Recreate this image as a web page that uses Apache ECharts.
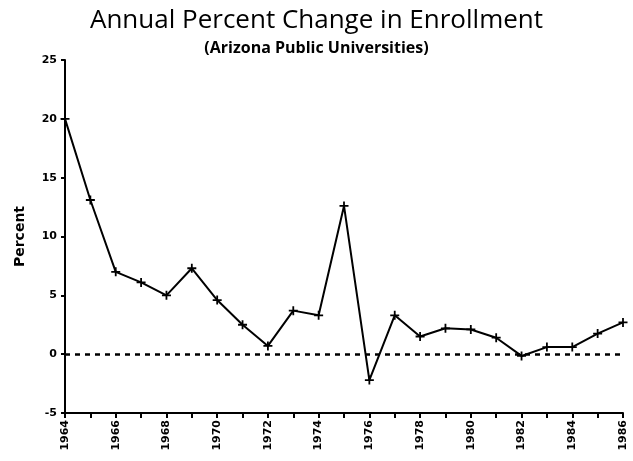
<!DOCTYPE html>
<html>
<head>
<meta charset="utf-8">
<script src="https://cdn.jsdelivr.net/npm/echarts@6/dist/echarts.min.js"></script>
<style>
  html, body { margin: 0; padding: 0; background: #fff; }
  #chart { width: 633px; height: 461px; }
</style>
</head>
<body>
<div id="chart"></div>
<script>
// years and annual change (%)
let years = ['1964','1965','1966','1967','1968','1969','1970','1971','1972','1973','1974','1975',
             '1976','1977','1978','1979','1980','1981','1982','1983','1984','1985','1986'];
let pctChange = [20.0, 13.1, 7.0, 6.1, 5.0, 7.3, 4.6, 2.5, 0.7, 3.7, 3.3, 12.6,
                 -2.2, 3.3, 1.5, 2.2, 2.1, 1.4, -0.15, 0.6, 0.6, 1.75, 2.7];
let yTicks = [-5, 0, 5, 10, 15, 20, 25];

let myChart = echarts.init(document.getElementById('chart'), null, {renderer: 'canvas'});

let plusSymbol = 'path://M4,0H6V4H10V6H6V10H4V6H0V4H4Z';

option = {
    backgroundColor: '#fff',
    animation: false,
    title: {
        text: 'Annual Percent Change in Enrollment',
        subtext: '(Arizona Public Universities)',
        left: 'center',
        top: 3,
        itemGap: 6,
        textStyle: {
            fontFamily: 'Open Sans',
            fontWeight: 'normal',
            fontSize: 26,
            color: '#000'
        },
        subtextStyle: {
            fontFamily: 'Open Sans',
            fontWeight: 'bold',
            fontSize: 16,
            color: '#000'
        }
    },
    grid: {
        left: 65,
        right: 10,
        top: 60,
        bottom: 48
    },
    xAxis: {
        type: 'category',
        data: years,
        boundaryGap: false,
        axisLine: { onZero: false, lineStyle: { color: '#000', width: 2 } },
        axisTick: { show: true, interval: 0, length: 5, lineStyle: { color: '#000', width: 2 } },
        axisLabel: {
            interval: 1,
            rotate: 90,
            color: '#000',
            fontFamily: 'DejaVu Sans',
            fontWeight: 'bold',
            fontSize: 11,
            margin: 7
        },
        splitLine: { show: false }
    },
    yAxis: {
        type: 'value',
        min: yTicks[0],
        max: yTicks[yTicks.length - 1],
        interval: 5,
        name: 'Percent',
        nameLocation: 'middle',
        nameGap: 38,
        nameTextStyle: {
            fontFamily: 'DejaVu Sans',
            fontWeight: 'bold',
            fontSize: 14,
            color: '#000'
        },
        axisLine: { show: true, lineStyle: { color: '#000', width: 2 } },
        axisTick: { show: true, length: 4, lineStyle: { color: '#000', width: 2 } },
        axisLabel: {
            color: '#000',
            fontFamily: 'DejaVu Sans',
            fontWeight: 'bold',
            fontSize: 11,
            margin: 8
        },
        splitLine: { show: false }
    },
    series: [{
        name: 'Percent',
        type: 'line',
        data: pctChange,
        symbol: plusSymbol,
        symbolSize: 9,
        showAllSymbol: true,
        itemStyle: { color: '#000' },
        lineStyle: { color: '#000', width: 2 },
        markLine: {
            silent: true,
            symbol: ['none', 'none'],
            label: { show: false },
            lineStyle: { color: '#000', type: [5, 5], width: 2.5 },
            data: [{ yAxis: 0 }]
        }
    }]
};
myChart.setOption(option);
</script>
</body>
</html>
